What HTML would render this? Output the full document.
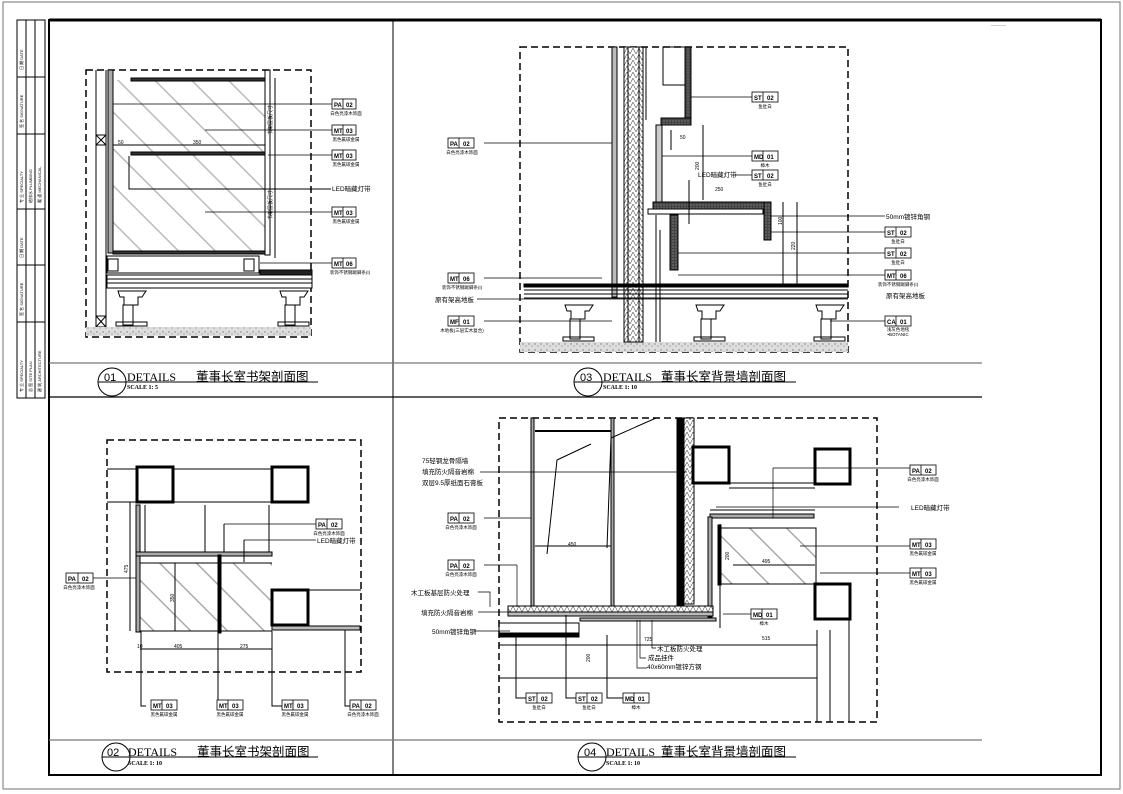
<!DOCTYPE html>
<html><head><meta charset="utf-8"><style>
html,body{margin:0;padding:0;background:#fff}
svg{display:block}
text{font-family:"Liberation Sans","Noto Sans CJK SC",sans-serif}
.t{font-size:6px;font-weight:bold}
.l{font-size:4.5px}
.m{font-size:6.5px}
</style></head><body>
<svg width="1123" height="794" viewBox="0 0 1123 794" xmlns="http://www.w3.org/2000/svg">
<defs>
<pattern id="hg" width="26" height="26" patternUnits="userSpaceOnUse" patternTransform="rotate(-45)">
<line x1="0" y1="0" x2="0" y2="26" stroke="#aaa" stroke-width="3"/></pattern>
<pattern id="sp" width="6" height="6" patternUnits="userSpaceOnUse">
<rect width="6" height="6" fill="#ddd"/><circle cx="1" cy="2" r=".7" fill="#777"/><circle cx="4" cy="4" r=".6" fill="#888"/></pattern>
<pattern id="ins" width="6" height="6" patternUnits="userSpaceOnUse">
<rect width="6" height="6" fill="#fff"/><path d="M0 6L3 0L6 6" stroke="#555" stroke-width=".6" fill="none"/></pattern>
<pattern id="dk" width="3" height="3" patternUnits="userSpaceOnUse"><rect width="3" height="3" fill="#444"/><circle cx="1" cy="1" r=".6" fill="#999"/></pattern>
</defs>
<rect x="3" y="2" width="1117" height="787" fill="none" stroke="#888" stroke-width="1.2"/>
<rect x="49" y="20" width="1052" height="755" fill="none" stroke="#000" stroke-width="2"/>
<line x1="49" y1="20" x2="1101" y2="20" stroke="#000" stroke-width="3"/>
<text x="991" y="26" style="font-size:3px">—————</text>
<g stroke="#000" stroke-width="1" fill="none">
<rect x="17" y="20" width="28" height="378"/>
<line x1="26" y1="20" x2="26" y2="398"/><line x1="35" y1="20" x2="35" y2="398"/>
<line x1="17" y1="77" x2="45" y2="77"/><line x1="17" y1="134" x2="45" y2="134"/>
<line x1="17" y1="209" x2="45" y2="209"/><line x1="17" y1="265" x2="45" y2="265"/>
<line x1="17" y1="322" x2="45" y2="322"/>
</g>
<g style="font-size:4px" fill="#000">
<text transform="translate(23,70) rotate(-90)">日 期 DATE</text>
<text transform="translate(23,128) rotate(-90)">签 名 SIGNATURE</text>
<text transform="translate(23,203) rotate(-90)">专 业 SPECIALTY</text>
<text transform="translate(32,203) rotate(-90)">给排水 PLUMBING</text>
<text transform="translate(41,203) rotate(-90)">暖 通 MECHANICAL</text>
<text transform="translate(23,258) rotate(-90)">日 期 DATE</text>
<text transform="translate(23,316) rotate(-90)">签 名 SIGNATURE</text>
<text transform="translate(23,392) rotate(-90)">专 业 SPECIALTY</text>
<text transform="translate(32,392) rotate(-90)">总 图 SITE PLAN</text>
<text transform="translate(41,392) rotate(-90)">建 筑 ARCHITECTURE</text>
</g>
<line x1="393" y1="20" x2="393" y2="775" stroke="#000" stroke-width="1"/>
<line x1="49" y1="363" x2="982" y2="363" stroke="#777" stroke-width="1.2"/>
<line x1="49" y1="397" x2="982" y2="397" stroke="#000" stroke-width="1.2"/>
<line x1="49" y1="740" x2="982" y2="740" stroke="#777" stroke-width="1.2"/>

<g fill="none" stroke="#000" stroke-width="1">
<circle cx="112" cy="382" r="14"/><line x1="98" y1="382" x2="318" y2="382"/>
<circle cx="116" cy="757" r="14"/><line x1="102" y1="757" x2="318" y2="757"/>
<circle cx="588" cy="382" r="14"/><line x1="574" y1="382" x2="796" y2="382"/>
<circle cx="592" cy="757" r="14"/><line x1="578" y1="757" x2="796" y2="757"/>
</g>
<g fill="#000">
<text x="104" y="381" style="font-size:11px">01</text><text x="127" y="381" style="font-family:'Liberation Serif',serif;font-size:12px">DETAILS</text><text x="196" y="381" style="font-size:12.5px">董事长室书架剖面图</text><text x="127" y="389" style="font-family:'Liberation Serif',serif;font-size:6px;font-weight:bold">SCALE 1: 5</text>
<text x="107" y="756" style="font-size:11px">02</text><text x="128" y="756" style="font-family:'Liberation Serif',serif;font-size:12px">DETAILS</text><text x="197" y="756" style="font-size:12.5px">董事长室书架剖面图</text><text x="128" y="765" style="font-family:'Liberation Serif',serif;font-size:6px;font-weight:bold">SCALE 1: 10</text>
<text x="580" y="381" style="font-size:11px">03</text><text x="603" y="381" style="font-family:'Liberation Serif',serif;font-size:12px">DETAILS</text><text x="661" y="381" style="font-size:12.5px">董事长室背景墙剖面图</text><text x="603" y="389" style="font-family:'Liberation Serif',serif;font-size:6px;font-weight:bold">SCALE 1: 10</text>
<text x="584" y="756" style="font-size:11px">04</text><text x="606" y="756" style="font-family:'Liberation Serif',serif;font-size:12px">DETAILS</text><text x="661" y="756" style="font-size:12.5px">董事长室背景墙剖面图</text><text x="606" y="765" style="font-family:'Liberation Serif',serif;font-size:6px;font-weight:bold">SCALE 1: 10</text>
</g>

<!-- Panel 01 -->
<rect x="86" y="70" width="225" height="267" fill="none" stroke="#000" stroke-width="1.5" stroke-dasharray="7,4"/>
<rect x="113" y="80" width="152" height="173" fill="url(#hg)" opacity=".8"/>
<g stroke="#000" fill="none" stroke-width="1">
<line x1="96" y1="70" x2="96" y2="328"/><line x1="106" y1="70" x2="106" y2="328"/>
<rect x="96" y="135" width="10" height="10"/><line x1="96" y1="135" x2="106" y2="145"/><line x1="106" y1="135" x2="96" y2="145"/>
<rect x="96" y="316" width="10" height="11"/><line x1="96" y1="316" x2="106" y2="327"/><line x1="106" y1="316" x2="96" y2="327"/>
<rect x="108" y="70" width="5" height="183" fill="#aaa"/>
<rect x="131" y="78" width="134" height="3" fill="#333"/>
<rect x="131" y="152" width="134" height="3" fill="#333"/>
<rect x="113" y="251" width="152" height="3" fill="#333"/>
<rect x="265" y="70" width="5" height="185"/>
<rect x="107" y="256" width="152" height="17"/>
<rect x="108" y="259" width="10" height="12"/><rect x="244" y="259" width="10" height="12"/>
<rect x="107" y="275" width="205" height="13" fill="#fff"/>
<line x1="107" y1="279" x2="312" y2="279"/><line x1="107" y1="283" x2="312" y2="283"/>
<rect x="260" y="270" width="52" height="5" fill="#222"/>
<path d="M118 291h28l-4 6h-4v8h-14v-8h-4z"/><rect x="123" y="305" width="10" height="20"/><rect x="116" y="322" width="31" height="4"/>
<path d="M280 291h28l-4 6h-4v8h-14v-8h-4z"/><rect x="285" y="305" width="10" height="20"/><rect x="278" y="322" width="31" height="4"/>
<line x1="275" y1="78" x2="275" y2="258"/>
<line x1="113" y1="145" x2="265" y2="145"/>
<path d="M129 156v33h202"/>
</g>
<rect x="86" y="327" width="225" height="9" fill="url(#sp)"/>
<g fill="#000" style="font-size:5px"><text x="118" y="144">50</text><text x="193" y="144">350</text>
<text transform="translate(272,135) rotate(-90)">书架层板尺寸</text><text transform="translate(272,220) rotate(-90)">书架层板尺寸</text></g>
<g stroke="#000" stroke-width=".7"><line x1="113" y1="104" x2="332" y2="104"/><line x1="205" y1="130" x2="332" y2="130"/><line x1="268" y1="155" x2="332" y2="155"/><line x1="205" y1="212" x2="332" y2="212"/><line x1="260" y1="263" x2="332" y2="263"/></g>
<text x="332" y="191" class="m">LED暗藏灯带</text>

<!-- Panel 03 -->
<rect x="520" y="47" width="328" height="305" fill="none" stroke="#000" stroke-width="1.5" stroke-dasharray="7,4"/>
<rect x="520" y="342" width="328" height="10" fill="url(#sp)"/>
<g stroke="#000" fill="none" stroke-width="1">
<rect x="612" y="47" width="5" height="250" fill="#bbb"/>
<rect x="624" y="47" width="19" height="295" fill="url(#ins)"/>
<line x1="628" y1="47" x2="628" y2="342"/><line x1="639" y1="47" x2="639" y2="342"/>
<line x1="646" y1="47" x2="646" y2="120"/>
<rect x="663" y="47" width="22" height="38" /><rect x="685" y="47" width="6" height="78" fill="url(#dk)"/>
<rect x="661" y="118" width="30" height="7" fill="url(#dk)"/>
<rect x="656" y="125" width="6" height="80" fill="#ccc"/>
<rect x="653" y="202" width="117" height="7" fill="url(#dk)"/>
<rect x="764" y="202" width="7" height="38" fill="url(#dk)"/>
<rect x="648" y="209" width="115" height="5"/>
<rect x="670" y="215" width="8" height="55" fill="url(#dk)"/>
<line x1="656" y1="215" x2="656" y2="342"/><line x1="660" y1="230" x2="660" y2="342"/>
<rect x="524" y="284" width="324" height="3" fill="#000"/>
<line x1="524" y1="290" x2="848" y2="290"/><line x1="524" y1="294" x2="848" y2="294"/><line x1="524" y1="298" x2="848" y2="298"/>
<path d="M565 305h28l-4 6h-4v8h-14v-8h-4z"/><rect x="570" y="319" width="10" height="20"/><rect x="563" y="337" width="31" height="4"/>
<path d="M696 305h28l-4 6h-4v8h-14v-8h-4z"/><rect x="701" y="319" width="10" height="20"/><rect x="694" y="337" width="31" height="4"/>
<path d="M816 305h28l-4 6h-4v8h-14v-8h-4z"/><rect x="821" y="319" width="10" height="20"/><rect x="814" y="337" width="31" height="4"/>
<line x1="783" y1="202" x2="783" y2="285"/><line x1="797" y1="202" x2="797" y2="285"/>
<line x1="671" y1="130" x2="671" y2="150"/><line x1="703" y1="125" x2="703" y2="200"/>
<path d="M689 180v44"/>
</g>
<g fill="#000" style="font-size:5px"><text x="680" y="139">50</text><text x="715" y="191">250</text><text transform="translate(699,170) rotate(-90)">200</text><text transform="translate(782,225) rotate(-90)">100</text><text transform="translate(795,250) rotate(-90)">220</text></g>
<g stroke="#000" stroke-width=".7">
<line x1="484" y1="143" x2="612" y2="143"/><line x1="484" y1="278" x2="602" y2="278"/><line x1="477" y1="299" x2="848" y2="299"/><line x1="484" y1="321" x2="612" y2="321"/>
<line x1="691" y1="97" x2="752" y2="97"/><line x1="662" y1="156" x2="752" y2="156"/><line x1="735" y1="175" x2="752" y2="175"/>
<line x1="770" y1="216" x2="885" y2="216"/><line x1="771" y1="232" x2="885" y2="232"/><line x1="678" y1="253" x2="885" y2="253"/><line x1="678" y1="275" x2="885" y2="275"/><line x1="830" y1="321" x2="885" y2="321"/>
</g>
<text x="698" y="177" class="m">LED暗藏灯带</text>
<text x="886" y="219" class="m">50mm镀锌角钢</text>
<text x="886" y="298" class="m">原有架高地板</text>
<text x="435" y="302" class="m">原有架高地板</text>

<!-- Panel 02 -->
<rect x="107" y="440" width="254" height="232" fill="none" stroke="#000" stroke-width="1.5" stroke-dasharray="7,4"/>
<rect x="140" y="563" width="132" height="68" fill="url(#hg)"/>
<g stroke="#000" fill="none" stroke-width="1">
<rect x="137" y="467" width="36" height="35" stroke-width="3"/><rect x="272" y="467" width="36" height="35" stroke-width="3"/><rect x="272" y="590" width="36" height="35" stroke-width="3"/>
<line x1="107" y1="469" x2="137" y2="469"/><line x1="107" y1="502" x2="272" y2="502"/><line x1="173" y1="469" x2="272" y2="469"/>
<rect x="136" y="505" width="4" height="127" fill="#aaa"/>
<line x1="145" y1="505" x2="145" y2="553"/><line x1="205" y1="505" x2="205" y2="553"/><line x1="269" y1="505" x2="269" y2="553"/>
<rect x="136" y="552" width="136" height="4" fill="#aaa"/>
<rect x="218" y="555" width="3" height="78" fill="#000"/>
<line x1="140" y1="563" x2="272" y2="563"/><line x1="140" y1="631" x2="272" y2="631"/>
<rect x="272" y="626" width="88" height="4" fill="#bbb"/>
<line x1="308" y1="590" x2="361" y2="590"/><line x1="130" y1="502" x2="130" y2="631"/><line x1="175" y1="563" x2="175" y2="631"/>
<line x1="140" y1="649" x2="272" y2="649"/>
<path d="M141 631v75h5M218 631v75h5M272 631v75h10M345 630v76h5"/>
<path d="M224 524v28M244 540v22"/>
</g>
<g fill="#000" style="font-size:5px"><text x="137" y="648">10</text><text x="174" y="648">405</text><text x="240" y="648">275</text><text transform="translate(128,573) rotate(-90)">475</text><text transform="translate(174,602) rotate(-90)">350</text></g>
<g stroke="#000" stroke-width=".7"><line x1="93" y1="578" x2="136" y2="578"/><line x1="224" y1="524" x2="316" y2="524"/><line x1="244" y1="540" x2="316" y2="540"/></g>
<text x="317" y="543" class="m">LED暗藏灯带</text>

<!-- Panel 04 -->
<rect x="499" y="418" width="378" height="304" fill="none" stroke="#000" stroke-width="1.5" stroke-dasharray="7,4"/>
<g stroke="#000" fill="none" stroke-width="1">
<rect x="531" y="418" width="3" height="190" fill="#aaa"/><rect x="611" y="418" width="3" height="190" fill="#aaa"/>
<line x1="535" y1="431" x2="611" y2="431" stroke-width="2"/>
<rect x="677" y="418" width="7" height="195" fill="#000"/>
<rect x="684" y="418" width="10" height="186" fill="url(#ins)"/>
<rect x="693" y="447" width="36" height="36" stroke-width="3"/><rect x="815" y="449" width="35" height="35" stroke-width="3"/><rect x="815" y="584" width="35" height="35" stroke-width="3"/>
<line x1="729" y1="483" x2="815" y2="483"/><line x1="729" y1="488" x2="815" y2="488"/><line x1="710" y1="510" x2="815" y2="510"/>
<rect x="710" y="514" width="104" height="4" fill="#aaa"/>
<rect x="719" y="528" width="97" height="56" fill="url(#hg)"/>
<rect x="718" y="525" width="3" height="60" fill="#000"/>
<rect x="708" y="517" width="4" height="100" fill="#aaa"/>
<rect x="508" y="606" width="205" height="6" fill="url(#ins)"/>
<rect x="508" y="612" width="205" height="4" fill="#bbb"/>
<rect x="580" y="618" width="136" height="3" fill="#bbb"/>
<rect x="499" y="623" width="80" height="12"/><rect x="499" y="633" width="80" height="4" fill="#000"/>
<line x1="499" y1="645" x2="817" y2="645"/><line x1="499" y1="678" x2="817" y2="678"/>
<line x1="817" y1="630" x2="817" y2="722"/><line x1="830" y1="630" x2="830" y2="722"/><line x1="849" y1="620" x2="849" y2="722"/>
<line x1="535" y1="546" x2="611" y2="546"/><line x1="733" y1="565" x2="815" y2="565"/>
<line x1="720" y1="524" x2="720" y2="628"/>
<path d="M591 444l-34 16-10 94M656 418l-45 20-4 110"/>
<path d="M516 637v61h10M566 615v83h10M607 635v63h16"/>
</g>
<g fill="#000" style="font-size:5px"><text x="568" y="546">450</text><text x="762" y="563">495</text><text x="644" y="641">725</text><text x="762" y="640">515</text><text transform="translate(590,662) rotate(-90)">200</text><text transform="translate(729,560) rotate(-90)">200</text></g>
<g stroke="#000" stroke-width=".7" fill="none">
<line x1="480" y1="472" x2="687" y2="472"/><line x1="484" y1="518" x2="531" y2="518"/><line x1="484" y1="565" x2="517" y2="565"/>
<path d="M517 565v42"/><path d="M478 592h12v15"/><line x1="478" y1="612" x2="512" y2="612"/><line x1="474" y1="631" x2="510" y2="631"/>
<path d="M773 468h137M773 468v50M899 507h-183M910 546h-110M910 573h-90"/>
<line x1="723" y1="614" x2="751" y2="614"/>
<path d="M652 620v28h4M640 620v38h6M637 620v48h10"/>
</g>
<g class="m" fill="#000">
<text x="422" y="463">75轻钢龙骨隔墙</text><text x="422" y="474">填充防火隔音岩棉</text><text x="422" y="485">双层9.5厚纸面石膏板</text>
<text x="411" y="595">木工板基层防火处理</text><text x="421" y="615">填充防火隔音岩棉</text><text x="432" y="634">50mm镀锌角钢</text>
<text x="657" y="651">木工板防火处理</text><text x="648" y="660">成品挂件</text><text x="647" y="669">40x60mm镀锌方钢</text>
<text x="911" y="510">LED暗藏灯带</text>
</g>

<!-- Tags -->
<g stroke="#000" stroke-width=".8" fill="#fff">
<rect x="332" y="99" width="24" height="10"/><rect x="332" y="125" width="24" height="10"/><rect x="332" y="150" width="24" height="10"/><rect x="332" y="207" width="24" height="10"/><rect x="332" y="258" width="24" height="10"/>
<rect x="448" y="138" width="26" height="10"/><rect x="448" y="273" width="26" height="10"/><rect x="448" y="316" width="26" height="10"/>
<rect x="752" y="92" width="26" height="10"/><rect x="752" y="151" width="26" height="10"/><rect x="752" y="170" width="26" height="10"/>
<rect x="885" y="227" width="26" height="10"/><rect x="885" y="248" width="26" height="10"/><rect x="885" y="270" width="26" height="10"/><rect x="885" y="316" width="26" height="10"/>
<rect x="316" y="519" width="26" height="10"/><rect x="66" y="573" width="27" height="10"/>
<rect x="151" y="700" width="26" height="10"/><rect x="217" y="700" width="26" height="10"/><rect x="282" y="700" width="26" height="10"/><rect x="350" y="700" width="26" height="10"/>
<rect x="910" y="465" width="26" height="10"/><rect x="910" y="539" width="26" height="10"/><rect x="910" y="568" width="26" height="10"/><rect x="751" y="609" width="26" height="10"/>
<rect x="448" y="513" width="26" height="10"/><rect x="448" y="560" width="26" height="10"/>
<rect x="526" y="693" width="26" height="10"/><rect x="576" y="693" width="26" height="10"/><rect x="623" y="693" width="26" height="10"/>
</g>
<g stroke="#000" stroke-width=".8">
<line x1="343" y1="99" x2="343" y2="109"/><line x1="343" y1="125" x2="343" y2="135"/><line x1="343" y1="150" x2="343" y2="160"/><line x1="343" y1="207" x2="343" y2="217"/><line x1="343" y1="258" x2="343" y2="268"/>
<line x1="459" y1="138" x2="459" y2="148"/><line x1="459" y1="273" x2="459" y2="283"/><line x1="459" y1="316" x2="459" y2="326"/>
<line x1="763" y1="92" x2="763" y2="102"/><line x1="763" y1="151" x2="763" y2="161"/><line x1="763" y1="170" x2="763" y2="180"/>
<line x1="896" y1="227" x2="896" y2="237"/><line x1="896" y1="248" x2="896" y2="258"/><line x1="896" y1="270" x2="896" y2="280"/><line x1="896" y1="316" x2="896" y2="326"/>
<line x1="327" y1="519" x2="327" y2="529"/><line x1="78" y1="573" x2="78" y2="583"/>
<line x1="162" y1="700" x2="162" y2="710"/><line x1="228" y1="700" x2="228" y2="710"/><line x1="293" y1="700" x2="293" y2="710"/><line x1="361" y1="700" x2="361" y2="710"/>
<line x1="921" y1="465" x2="921" y2="475"/><line x1="921" y1="539" x2="921" y2="549"/><line x1="921" y1="568" x2="921" y2="578"/><line x1="762" y1="609" x2="762" y2="619"/>
<line x1="459" y1="513" x2="459" y2="523"/><line x1="459" y1="560" x2="459" y2="570"/>
<line x1="537" y1="693" x2="537" y2="703"/><line x1="587" y1="693" x2="587" y2="703"/><line x1="634" y1="693" x2="634" y2="703"/>
</g>
<g class="t" fill="#000">
<text x="334" y="107">PA</text><text x="346" y="107">02</text><text x="334" y="133">MT</text><text x="346" y="133">03</text><text x="334" y="158">MT</text><text x="346" y="158">03</text><text x="334" y="215">MT</text><text x="346" y="215">03</text><text x="334" y="266">MT</text><text x="346" y="266">06</text>
<text x="450" y="146">PA</text><text x="463" y="146">02</text><text x="450" y="281">MT</text><text x="463" y="281">06</text><text x="450" y="324">MF</text><text x="463" y="324">01</text>
<text x="754" y="100">ST</text><text x="767" y="100">02</text><text x="754" y="159">MD</text><text x="767" y="159">01</text><text x="754" y="178">ST</text><text x="767" y="178">02</text>
<text x="887" y="235">ST</text><text x="900" y="235">02</text><text x="887" y="256">ST</text><text x="900" y="256">02</text><text x="887" y="278">MT</text><text x="900" y="278">06</text><text x="887" y="324">CA</text><text x="900" y="324">01</text>
<text x="318" y="527">PA</text><text x="331" y="527">02</text><text x="68" y="581">PA</text><text x="82" y="581">02</text>
<text x="153" y="708">MT</text><text x="166" y="708">03</text><text x="219" y="708">MT</text><text x="232" y="708">03</text><text x="284" y="708">MT</text><text x="297" y="708">03</text><text x="352" y="708">PA</text><text x="365" y="708">02</text>
<text x="912" y="473">PA</text><text x="925" y="473">02</text><text x="912" y="547">MT</text><text x="925" y="547">03</text><text x="912" y="576">MT</text><text x="925" y="576">03</text><text x="753" y="617">MD</text><text x="766" y="617">01</text>
<text x="450" y="521">PA</text><text x="463" y="521">02</text><text x="450" y="568">PA</text><text x="463" y="568">02</text>
<text x="528" y="701">ST</text><text x="541" y="701">02</text><text x="578" y="701">ST</text><text x="591" y="701">02</text><text x="625" y="701">MD</text><text x="638" y="701">01</text>
</g>
<g class="l" fill="#000" text-anchor="middle">
<text x="346" y="115">白色亮漆木饰面</text><text x="346" y="141">黑色氟碳金属</text><text x="346" y="166">黑色氟碳金属</text><text x="346" y="223">黑色氟碳金属</text><text x="350" y="274">装饰不锈钢踢脚条(I)</text>
<text x="462" y="154">白色亮漆木饰面</text><text x="462" y="289">装饰不锈钢踢脚条(I)</text><text x="462" y="332">木地板(三层实木复合)</text>
<text x="765" y="108">鱼肚白</text><text x="765" y="167">樟木</text><text x="765" y="186">鱼肚白</text>
<text x="898" y="243">鱼肚白</text><text x="898" y="264">鱼肚白</text><text x="898" y="286">装饰不锈钢踢脚条(I)</text><text x="898" y="331">浅灰色地毯</text><text x="898" y="336">•BOTANIC</text>
<text x="329" y="535">白色亮漆木饰面</text><text x="79" y="589">白色亮漆木饰面</text>
<text x="164" y="716">黑色氟碳金属</text><text x="230" y="716">黑色氟碳金属</text><text x="295" y="716">黑色氟碳金属</text><text x="363" y="716">白色亮漆木饰面</text>
<text x="923" y="481">白色亮漆木饰面</text><text x="923" y="555">黑色氟碳金属</text><text x="923" y="584">黑色氟碳金属</text><text x="764" y="625">樟木</text>
<text x="461" y="529">白色亮漆木饰面</text><text x="461" y="576">白色亮漆木饰面</text>
<text x="539" y="709">鱼肚白</text><text x="589" y="709">鱼肚白</text><text x="636" y="709">樟木</text>
</g>
</svg>
</body></html>
